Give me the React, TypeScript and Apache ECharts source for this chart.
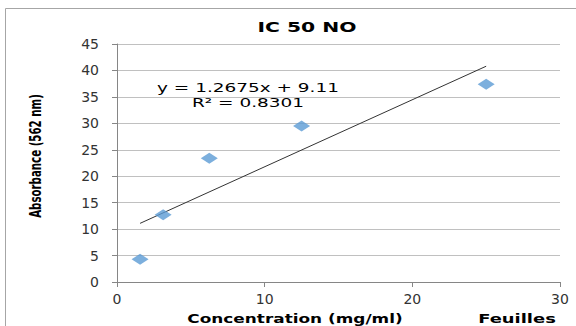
import React, { useEffect, useRef } from "react";
import * as echarts from "echarts";

const concentrations = [1.5625, 3.125, 6.25, 12.5, 25];
const absorbance = [4.3, 12.7, 23.4, 29.5, 37.4];
const trendSlope = 1.2675;
const trendIntercept = 9.11;
const equationLines = ["y = 1.2675x + 9.11", "R² = 0.8301"];
const titleText = "IC 50 NO";
const xTitle = "Concentration (mg/ml)";
const yTitle = "Absorbance (562 nm)";
const sideLabel = "Feuilles";

export default function App() {
  const ref = useRef<HTMLDivElement>(null);
  useEffect(() => {
    document.body.style.margin = "0";
    const chart = echarts.init(ref.current!, null, { renderer: "svg" });
    const xMin = Math.min(...concentrations);
    const xMax = Math.max(...concentrations);
    const trend = [
      [xMin, trendSlope * xMin + trendIntercept],
      [xMax, trendSlope * xMax + trendIntercept],
    ];
    const font = "DejaVu Sans, Verdana, sans-serif";
    const txt = (text: string, x: number, y: number, f: string, sx: number, extra: any = {}) => ({
      type: "text",
      x,
      y,
      scaleX: sx,
      ...extra,
      style: { text, font: f, fill: "#000", align: "center", verticalAlign: "middle" },
    });
    chart.setOption({
      animation: false,
      backgroundColor: "#fff",
      grid: { left: 117, right: 16, top: 44, bottom: 44, containLabel: false },
      xAxis: {
        type: "value",
        min: 0,
        max: 30,
        interval: 10,
        axisLine: { show: true, lineStyle: { color: "#868686", width: 1 } },
        axisTick: { show: true, length: 5, lineStyle: { color: "#868686" } },
        splitLine: { show: false },
        axisLabel: { color: "#333333", fontSize: 14, fontFamily: font, margin: 10 },
      },
      yAxis: {
        type: "value",
        min: 0,
        max: 45,
        interval: 5,
        axisLine: { show: true, lineStyle: { color: "#868686", width: 1 } },
        axisTick: { show: true, length: 5, lineStyle: { color: "#868686" } },
        splitLine: { show: true, lineStyle: { color: "#c0c0c0", width: 1 } },
        axisLabel: { color: "#333333", fontSize: 14, fontFamily: font, margin: 18 },
      },
      series: [
        {
          type: "line",
          data: trend,
          showSymbol: false,
          symbol: "none",
          lineStyle: { color: "#333333", width: 1 },
          z: 3,
        },
        {
          type: "scatter",
          data: concentrations.map((x, i) => [x, absorbance[i]]),
          symbol: "diamond",
          symbolSize: [17, 11],
          itemStyle: { color: "#5B9BD5" },
          z: 4,
        },
      ],
      graphic: [
        {
          type: "rect",
          shape: { x: 5.5, y: 8.5, width: 600, height: 400 },
          style: { fill: "none", stroke: "#a6a6a6", lineWidth: 1 },
          silent: true,
        },
        txt(titleText, 307, 27, "bold 14px " + font, 1.45),
        txt(equationLines[0], 248, 88, "13px " + font, 1.42),
        txt(equationLines[1], 248, 103, "13px " + font, 1.42),
        txt(yTitle, 36, 156, "bold 16px " + font, 0.64, { rotation: Math.PI / 2 }),
        txt(xTitle, 295, 319, "bold 13px " + font, 1.3),
        txt(sideLabel, 517, 318, "bold 13px " + font, 1.38),
      ],
    });
    return () => chart.dispose();
  }, []);
  return <div ref={ref} style={{ width: 576, height: 326 }} />;
}
